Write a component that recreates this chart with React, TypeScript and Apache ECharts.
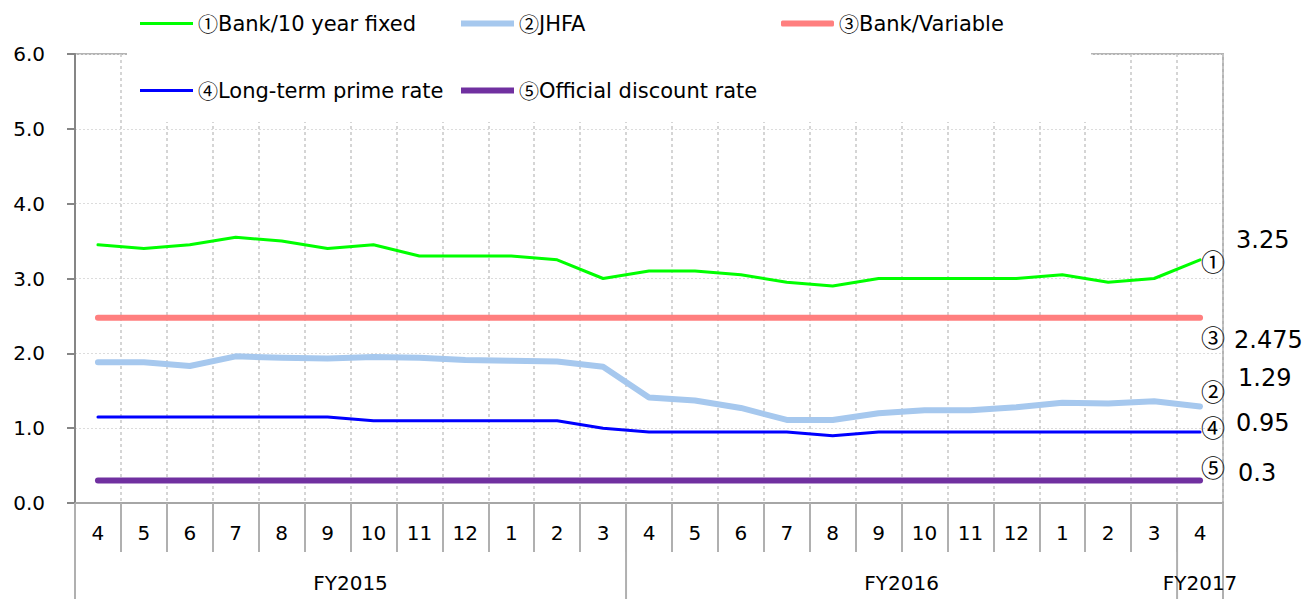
import React, { useEffect, useRef } from "react";
import * as echarts from "echarts";

const FONT = "DejaVu Sans";
const CJK = "Noto Sans CJK JP";

const months = ["4", "5", "6", "7", "8", "9", "10", "11", "12", "1", "2", "3",
  "4", "5", "6", "7", "8", "9", "10", "11", "12", "1", "2", "3", "4"];
const fyLabels = ["FY2015", "FY2016", "FY2017"];
const fyMonthCounts = [12, 12, 1];
const yTicks = [0, 1, 2, 3, 4, 5, 6];

const bank10 = [3.45, 3.40, 3.45, 3.55, 3.50, 3.40, 3.45, 3.30, 3.30, 3.30, 3.25, 3.00,
  3.10, 3.10, 3.05, 2.95, 2.90, 3.00, 3.00, 3.00, 3.00, 3.05, 2.95, 3.00, 3.25];
const jhfa = [1.88, 1.88, 1.83, 1.96, 1.94, 1.93, 1.95, 1.94, 1.91, 1.90, 1.89, 1.82,
  1.41, 1.37, 1.27, 1.11, 1.11, 1.20, 1.24, 1.24, 1.28, 1.34, 1.33, 1.36, 1.29];
const bankVar = [2.475, 2.475, 2.475, 2.475, 2.475, 2.475, 2.475, 2.475, 2.475, 2.475, 2.475, 2.475,
  2.475, 2.475, 2.475, 2.475, 2.475, 2.475, 2.475, 2.475, 2.475, 2.475, 2.475, 2.475, 2.475];
const ltpr = [1.15, 1.15, 1.15, 1.15, 1.15, 1.15, 1.10, 1.10, 1.10, 1.10, 1.10, 1.00,
  0.95, 0.95, 0.95, 0.95, 0.90, 0.95, 0.95, 0.95, 0.95, 0.95, 0.95, 0.95, 0.95];
const discount = [0.3, 0.3, 0.3, 0.3, 0.3, 0.3, 0.3, 0.3, 0.3, 0.3, 0.3, 0.3,
  0.3, 0.3, 0.3, 0.3, 0.3, 0.3, 0.3, 0.3, 0.3, 0.3, 0.3, 0.3, 0.3];

const seriesNames = [
  "①Bank/10 year fixed",
  "②JHFA",
  "③Bank/Variable",
  "④Long-term prime rate",
  "⑤Official discount rate",
];
const seriesData = [bank10, jhfa, bankVar, ltpr, discount];
const seriesColors = ["#00ff00", "#a6c8ee", "#ff7f7f", "#0000ff", "#7030a0"];
const seriesWidths = [3, 6, 6, 3, 6];
const circled = ["①", "②", "③", "④", "⑤"];

export default function App() {
  const ref = useRef<HTMLDivElement>(null);
  useEffect(() => {
    if (!ref.current) return;
    const chart = echarts.init(ref.current, null, { renderer: "svg" });

    const legendPos = [
      { left: 140, top: 13 },
      { left: 461, top: 13 },
      { left: 781, top: 13 },
      { left: 140, top: 80 },
      { left: 461, top: 80 },
    ];

    const option: any = {
      animation: false,
      textStyle: { fontFamily: FONT },
      grid: {
        left: 75,
        right: 89,
        top: 54,
        bottom: 96,
        show: true,
        borderColor: "#b4b4b4",
        borderWidth: 2,
        backgroundColor: "transparent",
      },
      legend: seriesNames.map((n, i) => ({
        data: [n],
        left: legendPos[i].left,
        top: legendPos[i].top,
        icon: i === 2 ? "roundRect" : "rect",
        itemWidth: 53,
        itemHeight: seriesWidths[i],
        padding: 0,
        selectedMode: false,
        formatter: (name: string) => `{c|${name.charAt(0)}}{t|${name.slice(1)}}`,
        textStyle: {
          fontSize: 21,
          color: "#000",
          fontFamily: FONT,
          rich: {
            c: { fontFamily: CJK, fontSize: 20, lineHeight: 24, color: "#000" },
            t: { fontFamily: FONT, fontSize: 21, lineHeight: 24, color: "#000" },
          },
        },
      })),
      xAxis: [
        {
          type: "category",
          data: months,
          boundaryGap: true,
          axisLine: { show: true, lineStyle: { color: "#a6a6a6", width: 2 } },
          axisTick: { show: true, interval: 0, length: 49, lineStyle: { color: "#b0b0b0", width: 2 } },
          axisLabel: { interval: 0, margin: 20, fontSize: 20, color: "#000", fontFamily: FONT },
          splitLine: { show: true, interval: 0, lineStyle: { color: "#c8c8c8", width: 1.5, type: [3, 3] } },
        },
      ],
      yAxis: {
        type: "value",
        min: 0,
        max: 6,
        interval: 1,
        axisLine: { show: true, lineStyle: { color: "#868686", width: 2 } },
        axisTick: { show: true, length: 8, lineStyle: { color: "#868686", width: 2 } },
        axisLabel: {
          margin: 30,
          fontSize: 20,
          color: "#000",
          fontFamily: FONT,
          formatter: (v: number) => v.toFixed(1),
        },
        splitLine: { show: true, lineStyle: { color: "#dcdcdc", width: 1, type: [2, 2] } },
      },
      series: seriesNames.map((n, i) => ({
        name: n,
        type: "line",
        data: seriesData[i],
        symbol: "none",
        color: seriesColors[i],
        lineStyle: { color: seriesColors[i], width: seriesWidths[i], cap: "round", join: "round" },
        z: 2 + (4 - i) * 0.1,
      })),
    };
    chart.setOption(option);

    // Decorations derived from the axes' scales
    const c0 = chart.convertToPixel({ xAxisIndex: 0 }, 0) as number;
    const c1 = chart.convertToPixel({ xAxisIndex: 0 }, 1) as number;
    const band = c1 - c0;
    const boundary = (k: number) => c0 - band / 2 + k * band;
    const yZero = chart.convertToPixel({ yAxisIndex: 0 }, 0) as number;
    const yTop = chart.convertToPixel({ yAxisIndex: 0 }, yTicks[yTicks.length - 1]) as number;

    const graphics: any[] = [];
    // white box behind legend
    graphics.push({
      type: "rect",
      z: 3,
      shape: { x: 127, y: 0, width: 964, height: yTop + 68 },
      style: { fill: "#ffffff" },
    });
    // group separators and FY labels
    let start = 0;
    const bounds = [0];
    fyMonthCounts.forEach((cnt) => { start += cnt; bounds.push(start); });
    bounds.forEach((k) => {
      const x = boundary(k);
      graphics.push({
        type: "line",
        z: 3,
        shape: { x1: x, y1: yZero, x2: x, y2: yZero + 96 },
        style: { stroke: "#b0b0b0", lineWidth: 2 },
      });
    });
    fyLabels.forEach((lab, gi) => {
      const x = (boundary(bounds[gi]) + boundary(bounds[gi + 1])) / 2;
      graphics.push({
        type: "text",
        z: 4,
        x,
        y: yZero + 80,
        style: {
          text: lab,
          fontSize: 20,
          fontFamily: FONT,
          fill: "#000",
          align: "center",
          verticalAlign: "middle",
        },
      });
    });
    // right-side annotations
    const circPos = [260, 390, 336, 426, 466];
    const valPos = [
      { x: 1236, y: 240 },
      { x: 1238, y: 378 },
      { x: 1234, y: 340 },
      { x: 1236, y: 423 },
      { x: 1238, y: 473 },
    ];
    seriesData.forEach((d, i) => {
      graphics.push({
        type: "text",
        z: 4,
        x: 1213,
        y: circPos[i],
        style: {
          text: circled[i],
          fontSize: 24,
          fontFamily: CJK,
          fill: "#000",
          align: "center",
          verticalAlign: "middle",
        },
      });
      graphics.push({
        type: "text",
        z: 4,
        x: valPos[i].x,
        y: valPos[i].y,
        style: {
          text: String(d[d.length - 1]),
          fontSize: 24,
          fontFamily: FONT,
          fill: "#000",
          align: "left",
          verticalAlign: "middle",
        },
      });
    });
    chart.setOption({ graphic: graphics });

    return () => chart.dispose();
  }, []);
  return (
    <div
      ref={ref}
      style={{ position: "absolute", left: 0, top: 0, width: 1312, height: 599, background: "#fff" }}
    />
  );
}
